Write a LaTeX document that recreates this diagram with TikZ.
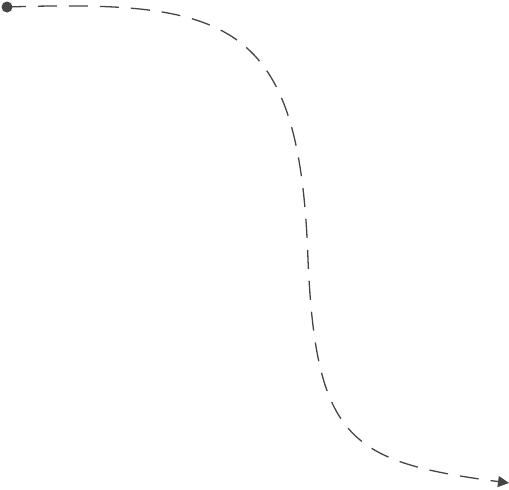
\documentclass[tikz,border=0pt]{standalone}
\usepackage{tikz}
\usetikzlibrary{positioning,arrows.meta}

\definecolor{pathgray}{HTML}{454545}

\begin{document}
\begin{tikzpicture}[
    x=1pt, y=-1pt,
    dot/.style={circle, fill=pathgray, inner sep=0pt, minimum size=11pt},
    route/.style={-{Triangle[length=11pt,width=11pt]}, pathgray, line width=1.3pt, dash pattern=on 19pt off 12pt}
]
\useasboundingbox (0,0) rectangle (509,490);
\node[dot] (start) at (7,7) {};
\coordinate (bend) at (308,260);
\coordinate (end) at (509,483);
\draw[route] (start.center) .. controls (230,0) and (300,20) .. (bend)
    .. controls (316,440) and (350,462) .. (end);
\end{tikzpicture}
\end{document}
